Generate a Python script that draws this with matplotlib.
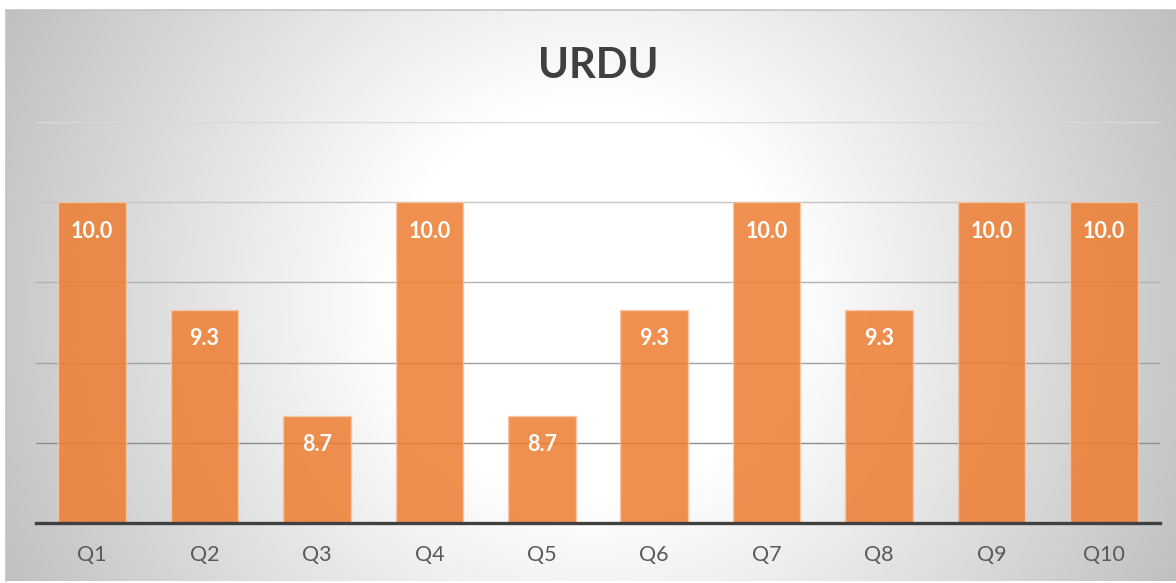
import numpy as np
import matplotlib
matplotlib.use("Agg")
import matplotlib.pyplot as plt

# Scores per question
categories = ["Q1", "Q2", "Q3", "Q4", "Q5", "Q6", "Q7", "Q8", "Q9", "Q10"]
scores = [10.0, 9.33, 8.67, 10.0, 8.67, 9.33, 10.0, 9.33, 10.0, 10.0]
title = "URDU"

W, H, DPI = 1176, 583, 100
fig = plt.figure(figsize=(W / DPI, H / DPI), dpi=DPI)
fig.patch.set_facecolor("white")

# Chart area with a radial grey-to-white fill
box_l, box_t, box_r, box_b = 6, 10, 1176, 581
bg = fig.add_axes([box_l / W, 1 - box_b / H, (box_r - box_l) / W, (box_b - box_t) / H])
xs = np.arange(box_l, box_r)
ys = np.arange(box_t, box_b)
X, Y = np.meshgrid(xs, ys)
d = np.hypot(X - 590, Y - 300)
shade = np.clip(255 - 0.14 * np.clip(d - 200, 0, None), 185, 255) / 255.0
img = np.dstack([shade, shade, shade])
bg.imshow(img, aspect="auto", interpolation="bilinear")
bg.set_xticks([])
bg.set_yticks([])
for side, sp in bg.spines.items():
    sp.set_visible(side in ("top", "left"))
    sp.set_color("#c4c4c4")
    sp.set_linewidth(1.2)

# Plot area
ax = fig.add_axes([36 / W, 1 - 523 / H, 1124 / W, 401 / H])
ax.patch.set_alpha(0)
x = np.arange(len(categories))
ax.set_xlim(-0.5, len(categories) - 0.5)
ax.set_ylim(8.0, 10.5)

grid_levels = [8.5, 9.0, 9.5, 10.0, 10.5]
grid_colors = ["#8e8e8e", "#a2a2a2", "#b2b2b2", "#c6c6c6", "#d9d9d9"]
for lvl, c in zip(grid_levels, grid_colors):
    ax.axhline(lvl, color=c, linewidth=1.0, zorder=1)

bars = ax.bar(x, scores, width=0.6, bottom=0, color="#ED7D31", alpha=0.85,
              edgecolor="#f6c9a8", linewidth=1.0, zorder=2)

for xi, v in zip(x, scores):
    ax.annotate(f"{v:.1f}", xy=(xi, v), xytext=(0, -19.5), textcoords="offset points",
                ha="center", va="center_baseline", color="white", fontsize=15.5,
                fontweight="bold", family="Lato", zorder=4)

for side in ("top", "left", "right"):
    ax.spines[side].set_visible(False)
ax.spines["bottom"].set_color("#404040")
ax.spines["bottom"].set_linewidth(2.4)
ax.spines["bottom"].set_zorder(5)

ax.set_yticks([])
ax.set_xticks(x)
ax.set_xticklabels(categories, fontsize=15.5, color="#595959", family="Lato")
ax.tick_params(axis="x", length=0, pad=15.5)

fig.text(598 / W, 1 - 62 / H, title, ha="center", va="center_baseline", fontsize=30,
         fontweight="bold", color="#404040", family="Lato")

fig.savefig("out.png", dpi=DPI)
